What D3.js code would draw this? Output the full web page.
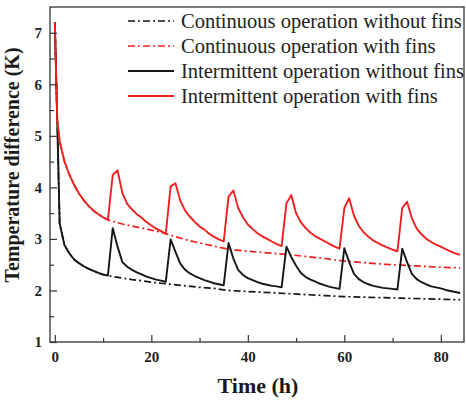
<!DOCTYPE html>
<html>
<head>
<meta charset="utf-8">
<script src="https://cdn.jsdelivr.net/npm/d3@7"></script>
<style>
  html, body { margin: 0; padding: 0; background: #ffffff; }
  svg { display: block; }
</style>
</head>
<body>
<svg id="chart" width="466" height="405"></svg>
<script>
// Time axes (h)
const timeIntermittent = [0, 0.5, 1, 2, 3, 4, 5, 6, 7, 8, 9, 10, 11,
  12, 13, 14, 15, 16, 17, 18, 19, 20, 21, 22, 23,
  24, 25, 26, 27, 28, 29, 30, 31, 32, 33, 34, 35,
  36, 37, 38, 39, 40, 41, 42, 43, 44, 45, 46, 47,
  48, 49, 50, 51, 52, 53, 54, 55, 56, 57, 58, 59,
  60, 61, 62, 63, 64, 65, 66, 67, 68, 69, 70, 71,
  72, 73, 74, 75, 76, 77, 78, 79, 80, 81, 82, 83, 84];
const timeContinuous = [0, 0.5, 1, 2, 3, 4, 5, 6, 7, 8, 9, 10, 11,
  12, 14, 16, 18, 20, 22, 24, 27, 30, 33, 36, 40, 44, 48, 52, 56, 60, 64, 68, 72, 76, 80, 84];

// Temperature difference (K)
const continuousWithoutFins = [7.2, 5.3, 3.3, 2.88, 2.72, 2.6, 2.53, 2.47, 2.42, 2.38, 2.34, 2.31, 2.29,
  2.27, 2.24, 2.21, 2.19, 2.16, 2.14, 2.12, 2.09, 2.06, 2.04, 2.0, 1.98, 1.96, 1.94, 1.92, 1.9, 1.88,
  1.87, 1.86, 1.85, 1.84, 1.83, 1.82];
const continuousWithFins = [7.2, 5.3, 4.9, 4.5, 4.25, 4.05, 3.88, 3.75, 3.64, 3.55, 3.48, 3.42, 3.37,
  3.34, 3.29, 3.25, 3.21, 3.17, 3.13, 3.07, 2.99, 2.92, 2.86, 2.8, 2.76, 2.73, 2.7, 2.66, 2.62, 2.57,
  2.54, 2.51, 2.49, 2.47, 2.45, 2.44];
const intermittentWithoutFins = [7.2, 5.3, 3.3, 2.88, 2.72, 2.6, 2.53, 2.47, 2.42, 2.38, 2.34, 2.31, 2.29,
  3.21, 2.85, 2.55, 2.46, 2.4, 2.35, 2.31, 2.27, 2.24, 2.21, 2.19, 2.17,
  2.99, 2.75, 2.52, 2.4, 2.33, 2.28, 2.24, 2.2, 2.17, 2.14, 2.12, 2.1,
  2.92, 2.62, 2.4, 2.3, 2.24, 2.2, 2.16, 2.13, 2.11, 2.09, 2.08, 2.06,
  2.85, 2.65, 2.48, 2.34, 2.26, 2.21, 2.17, 2.13, 2.1, 2.07, 2.05, 2.03,
  2.82, 2.55, 2.32, 2.22, 2.16, 2.12, 2.09, 2.07, 2.05, 2.04, 2.03, 2.02,
  2.81, 2.55, 2.32, 2.22, 2.16, 2.12, 2.08, 2.06, 2.04, 2.01, 1.99, 1.97, 1.95];
const intermittentWithFins = [7.2, 5.3, 4.9, 4.5, 4.25, 4.05, 3.88, 3.75, 3.64, 3.55, 3.48, 3.42, 3.37,
  4.24, 4.33, 3.89, 3.68, 3.57, 3.48, 3.41, 3.33, 3.26, 3.2, 3.15, 3.1,
  4.02, 4.08, 3.74, 3.55, 3.43, 3.33, 3.24, 3.18, 3.1, 3.04, 2.99, 2.95,
  3.82, 3.94, 3.6, 3.42, 3.28, 3.19, 3.11, 3.05, 3.0, 2.95, 2.9, 2.86,
  3.69, 3.85, 3.5, 3.32, 3.21, 3.12, 3.05, 3.0, 2.95, 2.9, 2.85, 2.81,
  3.6, 3.79, 3.45, 3.25, 3.13, 3.04, 2.97, 2.92, 2.87, 2.83, 2.79, 2.76,
  3.6, 3.72, 3.4, 3.2, 3.09, 3.0, 2.94, 2.89, 2.85, 2.8, 2.76, 2.72, 2.69];

// Tick values
const xMajorTicks = [0, 20, 40, 60, 80];
const xMinorTicks = [10, 30, 50, 70];
const yMajorTicks = [1, 2, 3, 4, 5, 6, 7];
const yMinorTicks = [1.5, 2.5, 3.5, 4.5, 5.5, 6.5];

const legendLabels = [
  "Continuous operation without fins",
  "Continuous operation with fins",
  "Intermittent operation without fins",
  "Intermittent operation with fins"
];

const RED = "#ee1f1f";
const BLACK = "#161616";
const AXIS = "#333333";
const DASHDOT = "7,3,2,3";

const series = [
  { t: timeContinuous, v: continuousWithoutFins, color: BLACK, dash: DASHDOT, width: 1.7 },
  { t: timeContinuous, v: continuousWithFins, color: RED, dash: DASHDOT, width: 1.7 },
  { t: timeIntermittent, v: intermittentWithoutFins, color: BLACK, dash: null, width: 1.9 },
  { t: timeIntermittent, v: intermittentWithFins, color: RED, dash: null, width: 1.9 }
];

const plot = { left: 50, right: 464, top: 7, bottom: 342 };

const x = d3.scaleLinear().domain([-1, 84.8]).range([plot.left, plot.right]);
const y = d3.scaleLinear().domain([1, 7.5]).range([plot.bottom, plot.top]);

const svg = d3.select("#chart");

// Curves
const line = d3.line().x(d => x(d[0])).y(d => y(d[1]));
const curves = svg.append("g").attr("fill", "none");
series.forEach(s => {
  curves.append("path")
    .datum(s.t.map((t, i) => [t, s.v[i]]))
    .attr("d", line)
    .attr("stroke", s.color)
    .attr("stroke-width", s.width)
    .attr("stroke-linejoin", "round")
    .attr("stroke-dasharray", s.dash);
});

// Frame
svg.append("rect")
  .attr("x", plot.left).attr("y", plot.top)
  .attr("width", plot.right - plot.left).attr("height", plot.bottom - plot.top)
  .attr("fill", "none").attr("stroke", AXIS).attr("stroke-width", 1.3);

const tickFont = "'Liberation Serif', 'Times New Roman', serif";
const intFormat = d3.format("d");

// X axis: inward ticks
svg.append("g").attr("transform", `translate(0,${plot.bottom})`)
  .call(d3.axisBottom(x).tickValues(xMajorTicks).tickFormat(intFormat)
    .tickSizeInner(-7).tickSizeOuter(0).tickPadding(9));
svg.append("g").attr("transform", `translate(0,${plot.bottom})`)
  .call(d3.axisBottom(x).tickValues(xMinorTicks).tickSizeInner(-4).tickSizeOuter(0).tickFormat(""));

// Y axis: inward ticks
svg.append("g").attr("transform", `translate(${plot.left},0)`)
  .call(d3.axisLeft(y).tickValues(yMajorTicks).tickFormat(intFormat)
    .tickSizeInner(-7).tickSizeOuter(0).tickPadding(8));
svg.append("g").attr("transform", `translate(${plot.left},0)`)
  .call(d3.axisLeft(y).tickValues(yMinorTicks).tickSizeInner(-4).tickSizeOuter(0).tickFormat(""));

svg.selectAll(".domain").remove();
svg.selectAll(".tick line").attr("stroke", AXIS).attr("stroke-width", 1.2);
svg.selectAll(".tick text")
  .attr("font-family", tickFont)
  .attr("font-weight", "bold")
  .attr("font-size", 15)
  .attr("fill", "#222");

// Axis titles
svg.append("text")
  .attr("x", (plot.left + plot.right) / 2 + 1).attr("y", 393)
  .attr("text-anchor", "middle")
  .attr("font-family", tickFont).attr("font-weight", "bold").attr("font-size", 22)
  .attr("fill", "#1a1a1a")
  .text("Time (h)");

svg.append("text")
  .attr("transform", "translate(19,165) rotate(-90)")
  .attr("text-anchor", "middle")
  .attr("font-family", tickFont).attr("font-weight", "bold").attr("font-size", 20)
  .attr("fill", "#1a1a1a")
  .text("Temperature difference (K)");

// Legend
const legend = svg.append("g");
legendLabels.forEach((label, i) => {
  const s = series[i];
  const cy = 21 + i * 25;
  legend.append("line")
    .attr("x1", 128).attr("x2", 174).attr("y1", cy).attr("y2", cy)
    .attr("stroke", s.color).attr("stroke-width", s.width)
    .attr("stroke-dasharray", s.dash);
  legend.append("text")
    .attr("x", 181).attr("y", cy + 7)
    .attr("font-family", tickFont).attr("font-size", 20.5)
    .attr("fill", "#222")
    .text(label);
});
</script>
</body>
</html>
